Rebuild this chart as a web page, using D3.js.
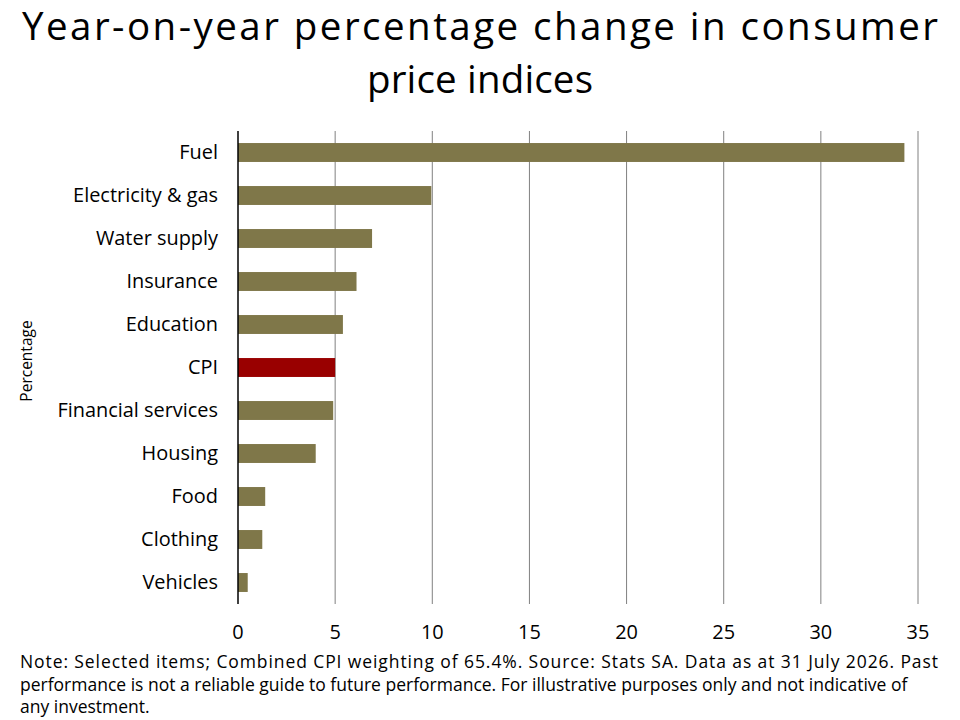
<!DOCTYPE html>
<html>
<head>
<meta charset="utf-8">
<script src="https://cdn.jsdelivr.net/npm/d3@7"></script>
<style>
  html, body { margin: 0; padding: 0; background: #fff; }
  svg { display: block; }
</style>
</head>
<body>
<svg id="chart" width="960" height="720"></svg>
<script>
const categories = ["Fuel", "Electricity & gas", "Water supply", "Insurance", "Education", "CPI",
  "Financial services", "Housing", "Food", "Clothing", "Vehicles"];
const values = [34.3, 9.95, 6.9, 6.1, 5.4, 5.0, 4.9, 4.0, 1.4, 1.25, 0.5];
const highlight = "CPI";
const xTicks = [0, 5, 10, 15, 20, 25, 30, 35];
const titleLines = ["Year-on-year percentage change in consumer", "price indices"];
const noteLines = [
  "Note: Selected items; Combined CPI weighting of 65.4%. Source: Stats SA. Data as at 31 July 2026. Past",
  "performance is not a reliable guide to future performance. For illustrative purposes only and not indicative of",
  "any investment."
];
const yTitle = "Percentage";

(function () {
const svg = d3.select("#chart");
const bodyFont = "'Open Sans', 'Noto Sans', sans-serif";
const titleFont = "'Open Sans', 'Noto Sans', sans-serif";

const pLeft = 238, pRight = 918, pTop = 131, pBottom = 604;
const x = d3.scaleLinear().domain([0, 35]).range([pLeft, pRight]);
const y = d3.scaleBand().domain(categories).range([pTop, pBottom]).paddingInner(0.56).paddingOuter(0.28);

function fitSize(sel, targetW, startSize) {
  sel.style("font-size", startSize + "px");
  const w = sel.node().getComputedTextLength();
  const s = startSize * targetW / w;
  sel.style("font-size", s + "px");
  return s;
}
function stretchTo(sel, targetW) {
  const w = sel.node().getComputedTextLength();
  if (w < targetW) sel.attr("textLength", targetW).attr("lengthAdjust", "spacing");
}

// Title
const titleSize = 38.5;
const titleY = [40, 93];
const titleW = [916, 226];
titleLines.forEach((t, i) => {
  const el = svg.append("text").attr("x", 480).attr("y", titleY[i]).attr("text-anchor", "middle")
    .style("font-family", titleFont).style("font-size", titleSize + "px").style("font-weight", 500)
    .style("fill", "#000").text(t);
  const w = el.node().getComputedTextLength();
  if (w > titleW[i]) fitSize(el, titleW[i], titleSize);
  else stretchTo(el, titleW[i]);
});

// Gridlines
svg.append("g").selectAll("line").data(xTicks.filter(d => d > 0)).join("line")
  .attr("x1", d => x(d)).attr("x2", d => x(d)).attr("y1", pTop).attr("y2", pBottom)
  .attr("stroke", "#808080").attr("stroke-width", 1);

// Bars
svg.append("g").selectAll("rect").data(categories).join("rect")
  .attr("x", x(0)).attr("y", d => y(d))
  .attr("width", (d, i) => x(values[i]) - x(0))
  .attr("height", y.bandwidth())
  .attr("fill", d => d === highlight ? "#990000" : "#7f7749");

// Axis line
svg.append("line").attr("x1", x(0)).attr("x2", x(0)).attr("y1", pTop).attr("y2", pBottom)
  .attr("stroke", "#000").attr("stroke-width", 1.5);

// Category labels
const catG = svg.append("g");
const probe = catG.append("text").style("font-family", bodyFont).text("Electricity & gas");
const cs = fitSize(probe, 145, 18);
probe.remove();
catG.selectAll("text").data(categories).join("text")
  .attr("x", 218).attr("y", d => y(d) + y.bandwidth() / 2).attr("dy", "0.35em")
  .attr("text-anchor", "end").style("font-family", bodyFont).style("font-size", cs + "px")
  .style("fill", "#000").text(d => d);

// X tick labels
svg.append("g").selectAll("text").data(xTicks).join("text")
  .attr("x", d => x(d)).attr("y", 639).attr("text-anchor", "middle")
  .style("font-family", bodyFont).style("font-size", cs + "px").style("fill", "#000")
  .text(d => d);

// Y title
svg.append("text").attr("transform", "translate(32,361) rotate(-90)").attr("text-anchor", "middle")
  .style("font-family", bodyFont).style("font-size", "15.5px").style("fill", "#000").text(yTitle);

// Notes
const noteY = [668, 691, 713];
const noteW = [918, 921, 135];
const n2 = svg.append("text").attr("x", 20).attr("y", noteY[1]).style("font-family", bodyFont)
  .style("fill", "#000").text(noteLines[1]);
const ns = Math.min(17.5, fitSize(n2, noteW[1], 17));
n2.style("font-size", ns + "px");
[0, 2].forEach(i => {
  const el = svg.append("text").attr("x", 20).attr("y", noteY[i]).style("font-family", bodyFont)
    .style("font-size", ns + "px").style("fill", "#000").text(noteLines[i]);
  const w = el.node().getComputedTextLength();
  if (w > noteW[i]) fitSize(el, noteW[i], ns);
  else if (i === 0) stretchTo(el, noteW[i]);
});
})();
</script>
</body>
</html>
